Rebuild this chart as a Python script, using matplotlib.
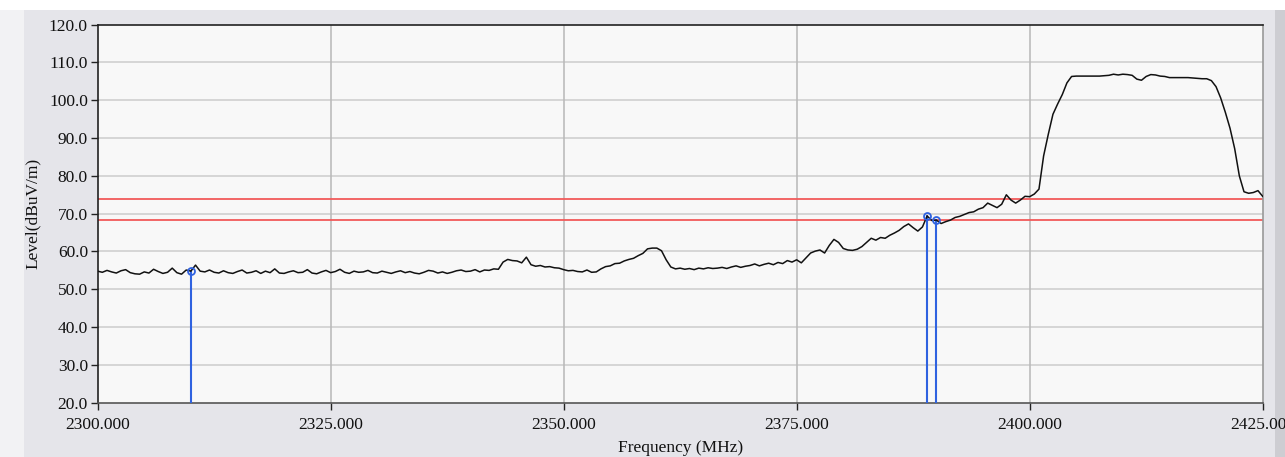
import numpy as np
import matplotlib
matplotlib.use("Agg")
import matplotlib.pyplot as plt
from matplotlib.patches import Rectangle

# Sweep frequencies (MHz), 0.5 MHz step
freq_start, freq_stop, freq_step = 2300.0, 2425.0, 0.5

# Measured level (dBuV/m), one value per sweep point
level_2300 = [54.8, 54.5, 55.0, 54.6, 54.3, 54.9, 55.2, 54.4, 54.1, 54.0,
              54.6, 54.3, 55.3, 54.7, 54.2, 54.5, 55.6, 54.4, 54.0, 55.1]
level_2310 = [54.8, 56.4, 54.8, 54.6, 55.1, 54.5, 54.3, 54.9, 54.4, 54.2,
              54.7, 55.1, 54.3, 54.5, 54.9, 54.2, 54.8, 54.4, 55.4, 54.3]
level_2320 = [54.2, 54.6, 54.9, 54.4, 54.5, 55.2, 54.3, 54.1, 54.6, 55.0,
              54.4, 54.7, 55.3, 54.5, 54.2, 54.8, 54.5, 54.6, 55.0, 54.4]
level_2330 = [54.3, 54.8, 54.5, 54.2, 54.6, 54.9, 54.4, 54.7, 54.3, 54.1,
              54.5, 55.0, 54.8, 54.3, 54.6, 54.2, 54.5, 54.9, 55.1, 54.7]
level_2340 = [54.8, 55.2, 54.6, 55.1, 55.0, 55.4, 55.3, 57.2, 57.9, 57.6,
              57.5, 57.0, 58.5, 56.5, 56.1, 56.3, 55.9, 56.0, 55.7, 55.6]
level_2350 = [55.2, 54.9, 55.0, 54.7, 54.6, 55.1, 54.5, 54.6, 55.4, 56.0,
              56.2, 56.8, 56.9, 57.5, 57.9, 58.2, 58.9, 59.5, 60.7, 60.9]
level_2360 = [60.9, 60.2, 57.8, 55.9, 55.4, 55.6, 55.3, 55.5, 55.2, 55.6,
              55.4, 55.7, 55.5, 55.6, 55.8, 55.5, 55.9, 56.2, 55.8, 56.1]
level_2370 = [56.3, 56.7, 56.2, 56.6, 56.9, 56.5, 57.1, 56.8, 57.6, 57.2,
              57.8, 57.0, 58.3, 59.6, 60.1, 60.4, 59.6, 61.6, 63.2, 62.4]
level_2380 = [60.8, 60.4, 60.3, 60.6, 61.3, 62.4, 63.5, 63.0, 63.7, 63.5,
              64.3, 64.9, 65.6, 66.6, 67.3, 66.3, 65.4, 66.5, 69.4, 68.2]
level_2390 = [68.3, 67.4, 67.9, 68.3, 69.0, 69.3, 69.8, 70.3, 70.5, 71.2,
              71.6, 72.8, 72.2, 71.6, 72.5, 75.0, 73.6, 72.8, 73.6, 74.6]
level_2400 = [74.5, 75.2, 76.5, 85.3, 91.0, 96.3, 99.0, 101.5, 104.6, 106.3,
              106.4, 106.4, 106.4, 106.4, 106.4, 106.4, 106.5, 106.6, 106.9, 106.7]
level_2410 = [106.9, 106.8, 106.6, 105.6, 105.3, 106.3, 106.8, 106.7, 106.4, 106.3,
              106.0, 106.0, 106.0, 106.0, 106.0, 105.9, 105.8, 105.7, 105.7, 105.2]
level_2420 = [103.6, 100.6, 96.8, 92.6, 87.2, 80.0, 75.8, 75.4, 75.6, 76.1, 74.6]

# Limit lines (dBuV/m)
limit_peak = 74.0
limit_avg = 68.2

# Marker frequencies (MHz)
marker_freqs = [2310.0, 2389.0, 2390.0]

# Axis ticks
x_ticks = [2300, 2325, 2350, 2375, 2400, 2425]
x_tick_labels = ["2300.000", "2325.000", "2350.000", "2375.000", "2400.000", "2425.000"]
y_ticks = [20, 30, 40, 50, 60, 70, 80, 90, 100, 110, 120]

levels = np.array(level_2300 + level_2310 + level_2320 + level_2330 + level_2340 +
                  level_2350 + level_2360 + level_2370 + level_2380 + level_2390 +
                  level_2400 + level_2410 + level_2420)
freqs = freq_start + freq_step * np.arange(len(levels))

font = "Liberation Serif"
plt.rcParams["font.family"] = [font, "DejaVu Serif"]

fig = plt.figure(figsize=(12.85, 4.57), dpi=100, facecolor="#e5e5ea")
# window frame strips
fig.patches.append(Rectangle((0, 0.978), 1, 0.022, transform=fig.transFigure,
                             facecolor="white", edgecolor="none", zorder=-5))
fig.patches.append(Rectangle((0, 0), 0.019, 0.978, transform=fig.transFigure,
                             facecolor="#f2f2f4", edgecolor="none", zorder=-5))
fig.patches.append(Rectangle((0.992, 0), 0.008, 0.978, transform=fig.transFigure,
                             facecolor="#cdcdd2", edgecolor="none", zorder=-5))

ax = fig.add_axes([0.076, 0.1188, 0.9066, 0.8272])
ax.set_facecolor("#f8f8f8")

ax.set_xlim(freq_start, freq_stop)
ax.set_ylim(20, 120)

# grid
for yv in y_ticks[1:-1]:
    ax.axhline(yv, color="#d6d6d6", lw=1.4, zorder=1)
for xv in x_ticks[1:-1]:
    ax.axvline(xv, color="#b8b8b8", lw=1.1, zorder=1)

# limits
ax.axhline(limit_peak, color="#f25a5a", lw=1.3, zorder=2)
ax.axhline(limit_avg, color="#f25a5a", lw=1.3, zorder=2)

# markers
for mf in marker_freqs:
    idx = int(round((mf - freq_start) / freq_step))
    mv = levels[idx]
    ax.plot([mf, mf], [20, mv], color="#2f62e0", lw=1.5, zorder=3)
    ax.plot([mf], [mv], marker="o", ms=5, mfc="none", mec="#2f62e0", mew=1.3, zorder=5)

# trace
ax.plot(freqs, levels, color="#111111", lw=1.1, zorder=4)

ax.set_xticks(x_ticks)
ax.set_xticklabels(x_tick_labels)
ax.set_yticks(y_ticks)
ax.set_yticklabels([f"{v:.1f}" for v in y_ticks])
ax.tick_params(axis="both", direction="out", length=5, width=1, color="#222222",
               labelsize=12.5, labelcolor="#111111", pad=2)
ax.tick_params(axis="x", pad=5)

for side, col in (("left", "#222222"), ("top", "#222222"),
                  ("bottom", "#555555"), ("right", "#999999")):
    ax.spines[side].set_color(col)
    ax.spines[side].set_linewidth(1.2)

ax.set_xlabel("Frequency (MHz)", fontsize=12.5, color="#111111", labelpad=5)
ax.set_ylabel("Level(dBuV/m)", fontsize=12.5, color="#111111", labelpad=6)

fig.savefig("out.png", dpi=100, facecolor=fig.get_facecolor())
